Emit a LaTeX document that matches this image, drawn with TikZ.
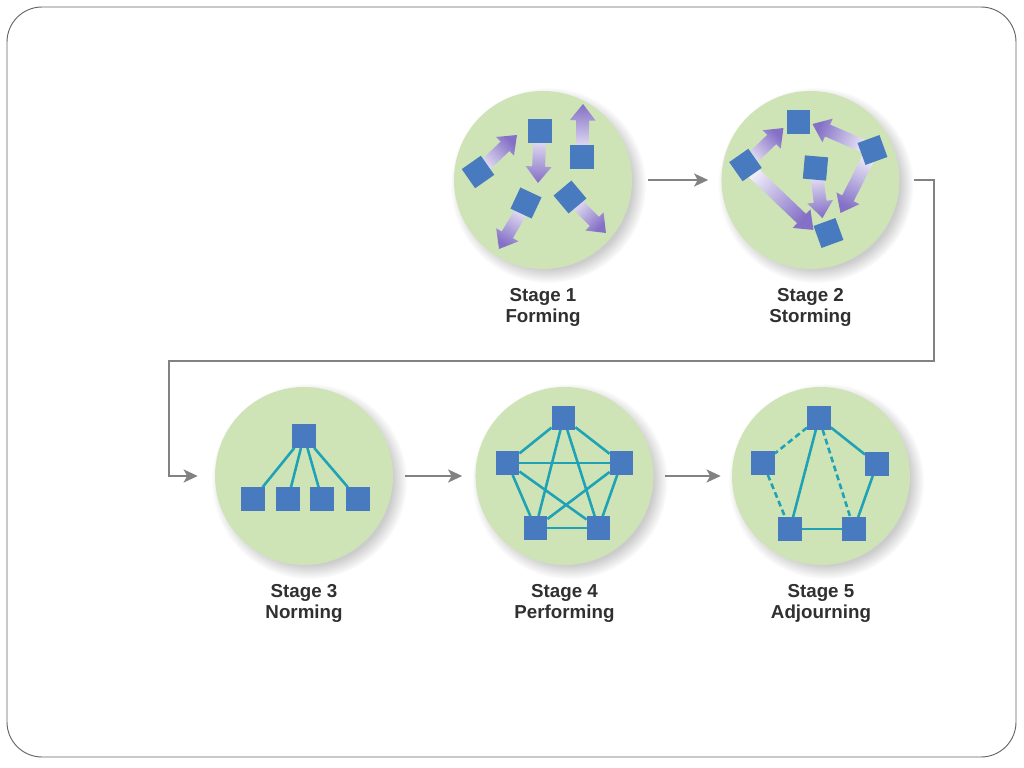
\documentclass[tikz,border=0pt]{standalone}
\usepackage{fontspec}
\setmainfont{Liberation Sans}
\usetikzlibrary{positioning}
\usetikzlibrary{calc}
\usetikzlibrary{shadows}
\usetikzlibrary{arrows.meta}

\definecolor{circlegreen}{RGB}{206,228,182}
\definecolor{memberblue}{RGB}{72,122,192}
\definecolor{linkteal}{RGB}{32,162,182}
\definecolor{pushlight}{RGB}{246,244,252}
\definecolor{pushdark}{RGB}{132,112,198}
\definecolor{flowgray}{RGB}{130,130,130}
\definecolor{labelgray}{RGB}{48,48,48}

\pgfdeclarelayer{front}
\pgfsetlayers{main,front}

\tikzset {
  frame/.style = {
    draw = black!60,
    line width = 0.8pt,
    rounded corners = 1.05cm
  },
  % stage disc
  stage/.style = {
    circle,
    fill = circlegreen,
    minimum size = 5.34cm,
    inner sep = 0,
    circular drop shadow = {shadow xshift = 4pt, shadow yshift = -4pt, opacity = .4}
  },
  % label under each disc
  stage label/.style = {
    align = center,
    inner sep = 0,
    text = labelgray,
    font = \bfseries\fontsize{16}{18}\selectfont
  },
  % team member
  member/.style = {
    rectangle,
    fill = memberblue,
    minimum size = 0.7cm,
    inner sep = 0
  },
  % link between members
  link/.style = {
    draw = linkteal,
    line width = 2.2pt
  },
  weak link/.style = {
    link,
    dash pattern = on 5pt off 3pt
  },
  % arrow from one stage to the next
  flow/.style = {
    draw = flowgray,
    line width = 2.4pt,
    -{Stealth[length = 12pt, width = 11pt, inset = 3pt]}
  },
  % fat shaded arrow
  push/.style = {
    top color = pushlight,
    bottom color = pushdark
  },
  node distance = 0.5cm
}

% fat arrow from #1 to #2
\newcommand{\pusharrow}[2]{%
  \path let \p1 = ($(#2)-(#1)$) in
    \pgfextra{%
      \pgfmathparse{atan2(\y1,\x1)}\xdef\pushangle{\pgfmathresult}%
      \pgfmathparse{veclen(\x1,\y1)}\xdef\pushlength{\pgfmathresult}%
      \pgfmathparse{\pushangle+90}\xdef\pushshade{\pgfmathresult}%
    };
  \shade[push, shift = {(#1)}, rotate = \pushangle, shading angle = \pushshade]
    (0pt,-5.5pt) -- (\pushlength pt-14pt,-5.5pt) -- (\pushlength pt-14pt,-11pt)
    -- (\pushlength pt,0pt) -- (\pushlength pt-14pt,11pt) -- (\pushlength pt-14pt,5.5pt)
    -- (0pt,5.5pt) -- cycle;
}

\begin{document}
\begin{tikzpicture}[x = 0.03cm, y = -0.03cm]
  \useasboundingbox (0,0) rectangle (1024,768);
  \draw[frame] (7,7) rectangle (1016,757);

  \node[stage] (stage1) at (543,180) {};
  \node[stage] (stage2) [right = 2.67cm of stage1] {};
  \node[stage] (stage3) at (304,476) {};
  \node[stage] (stage4) [right = 2.46cm of stage3] {};
  \node[stage] (stage5) [right = 2.34cm of stage4] {};

  \node[stage label] (label1) [below = 0.56cm of stage1] {Stage 1\\Forming};
  \node[stage label] (label2) [below = 0.56cm of stage2] {Stage 2\\Storming};
  \node[stage label] (label3) [below = 0.56cm of stage3] {Stage 3\\Norming};
  \node[stage label] (label4) [below = 0.56cm of stage4] {Stage 4\\Performing};
  \node[stage label] (label5) [below = 0.56cm of stage5] {Stage 5\\Adjourning};

  \coordinate (loop ne) at (934,361);
  \coordinate (loop sw) at (169,361);
  \draw[flow, shorten <= 0.48cm, shorten >= 0.39cm] (stage1) -- (stage2);
  \draw[flow, shorten <= 0.42cm, shorten >= 0.51cm]
    (stage2.east) -| (loop ne) -- (loop sw) |- (stage3.west);
  \draw[flow, shorten <= 0.36cm, shorten >= 0.39cm] (stage3) -- (stage4);
  \draw[flow, shorten <= 0.33cm, shorten >= 0.33cm] (stage4) -- (stage5);

  \begin{pgfonlayer}{front}
    % forming
    \node[member, rotate = 35] (f1) at ($(stage1)+(-65,-8)$) {};
    \node[member] (f2) at ($(stage1)+(-3,-49)$) {};
    \node[member] (f3) at ($(stage1)+(39,-23)$) {};
    \node[member, rotate = -25] (f4) at ($(stage1)+(-17,23)$) {};
    \node[member, rotate = 40] (f5) at ($(stage1)+(27,17)$) {};
    % storming
    \node[member] (s1) at ($(stage2)+(-12,-58)$) {};
    \node[member, rotate = 35] (s2) at ($(stage2)+(-65,-15)$) {};
    \node[member, rotate = 20] (s3) at ($(stage2)+(62,-30)$) {};
    \node[member, rotate = -5] (s4) at ($(stage2)+(5,-12)$) {};
    \node[member, rotate = 20] (s5) at ($(stage2)+(18,53)$) {};
    % norming
    \node[member] (n0) at ($(stage3)+(0,-40)$) {};
    \foreach \dx [count = \i] in {-51,-16,18,54}
      \node[member] (n\i) at ($(stage3)+(\dx,23)$) {};
    % performing
    \node[member] (p1) at ($(stage4)+(-1,-58)$) {};
    \node[member] (p2) at ($(stage4)+(-57,-13)$) {};
    \node[member] (p3) at ($(stage4)+(57,-13)$) {};
    \node[member] (p4) at ($(stage4)+(-29,52)$) {};
    \node[member] (p5) at ($(stage4)+(34,52)$) {};
    % adjourning
    \node[member] (a1) at ($(stage5)+(-2,-58)$) {};
    \node[member] (a2) at ($(stage5)+(-58,-13)$) {};
    \node[member] (a3) at ($(stage5)+(56,-12)$) {};
    \node[member] (a4) at ($(stage5)+(-31,53)$) {};
    \node[member] (a5) at ($(stage5)+(33,53)$) {};
  \end{pgfonlayer}

  % forming arrows
  \coordinate (f1 tip) at ($(stage1)+(-26,-45)$);
  \coordinate (f2 tip) at ($(stage1)+(-5,3)$);
  \coordinate (f3 tip) at ($(stage1)+(40,-76)$);
  \coordinate (f4 tip) at ($(stage1)+(-44,69)$);
  \coordinate (f5 tip) at ($(stage1)+(63,53)$);
  \foreach \i in {1,...,5}
    \pusharrow{f\i}{f\i\space tip};

  % storming arrows
  \coordinate (s1 left) at ($(stage2)+(-27,-52)$);
  \coordinate (s1 right) at ($(stage2)+(2,-56)$);
  \coordinate (s5 left) at ($(stage2)+(3,50)$);
  \coordinate (s5 mid) at ($(stage2)+(12,38)$);
  \coordinate (s5 right) at ($(stage2)+(30,33)$);
  \pusharrow{s2}{s1 left}
  \pusharrow{s3}{s1 right}
  \pusharrow{s2}{s5 left}
  \pusharrow{s4}{s5 mid}
  \pusharrow{s3}{s5 right}

  % links
  \foreach \i in {1,...,4}
    \draw[link] (n0) -- (n\i);
  \foreach \a/\b in {1/2,1/3,1/4,1/5,2/3,2/4,2/5,3/4,3/5,4/5}
    \draw[link] (p\a) -- (p\b);
  \foreach \a/\b in {1/3,1/4,3/5,4/5}
    \draw[link] (a\a) -- (a\b);
  \foreach \a/\b in {1/2,1/5,2/4}
    \draw[weak link] (a\a) -- (a\b);
\end{tikzpicture}
\end{document}
